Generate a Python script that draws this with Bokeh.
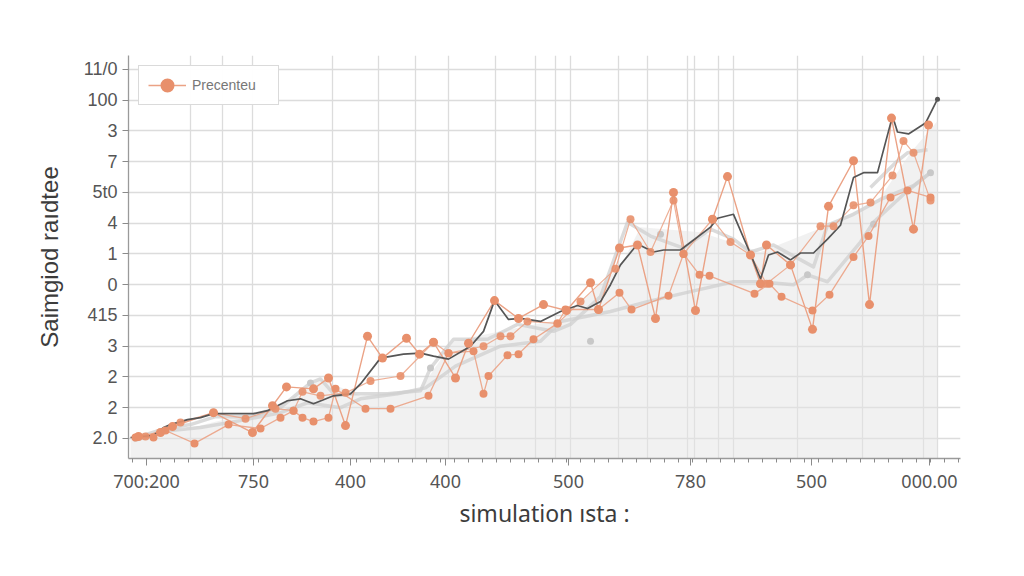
from bokeh.plotting import figure
from bokeh.models import FixedTicker, Legend, LegendItem
from bokeh.embed import file_html
from bokeh.resources import INLINE

# ---------------- data ----------------
x_tick_vals = [18, 125, 222, 317, 440, 562, 683, 801]
x_tick_labels = ["700:200", "750", "400", "400", "500", "780", "500", "000.00"]
y_tick_vals = [0, 31, 62, 93, 124, 155, 186, 217, 248, 279, 310, 341, 372]
y_tick_labels = ["2.0", "2", "2", "3", "415", "0", "1", "4", "5t0", "7", "3", "100", "11/0"]

dark_x = [2, 25, 35, 42, 59, 72, 85, 105, 125, 139, 159, 172, 185, 205, 222, 232, 252, 275, 292, 305,
          320, 342, 355, 366, 380, 392, 412, 432, 449, 459, 472, 482, 492, 509, 525, 535, 552, 582, 589,
          605, 622, 632, 640, 649, 662, 672, 685, 699, 712, 725, 735, 749, 764, 769, 780, 797, 809]
dark_y = [1, 3, 11, 14, 19, 21, 25, 25, 25, 28, 38, 40, 35, 43, 45, 55, 81, 85, 86, 83,
          80, 93, 108, 139, 120, 121, 118, 128, 134, 131, 138, 155, 175, 196, 188, 190, 190, 213, 222,
          226, 186, 161, 185, 188, 180, 187, 187, 201, 215, 263, 268, 268, 325, 309, 307, 318, 342]

orange_a_x = [10, 32, 44, 85, 124, 144, 158, 185, 200, 217, 239, 254, 278, 291, 305, 327, 340, 366, 390,
              415, 438, 462, 470, 491, 509, 527, 545, 567, 584, 599, 622, 632, 638, 662, 684, 700, 725,
              741, 763, 785, 800]
orange_a_y = [2, 6, 12, 26, 6, 33, 52, 50, 61, 13, 103, 81, 101, 85, 97, 61, 96, 139, 121,
              135, 129, 157, 130, 192, 195, 121, 248, 129, 221, 264, 185, 156, 195, 175, 110, 234, 280,
              135, 323, 211, 316]

orange_b_x = [7, 25, 37, 66, 100, 132, 152, 165, 174, 185, 200, 207, 237, 262, 300, 320, 345, 355, 360,
              379, 390, 405, 429, 437, 470, 491, 503, 540, 555, 571, 581, 626, 641, 653, 684, 701, 725,
              740, 762, 779, 802]
orange_b_y = [1, 1, 8, -5, 14, 10, 21, 28, 21, 17, 21, 50, 30, 30, 43, 86, 88, 45, 63,
              84, 85, 100, 116, 130, 130, 147, 130, 144, 186, 165, 164, 146, 156, 143, 129, 145, 183,
              204, 243, 250, 243]

orange_c_x = [17, 52, 85, 117, 147, 165, 174, 192, 217, 242, 272, 305, 320, 355, 372, 382, 399, 429,
              452, 487, 502, 522, 545, 555, 584, 602, 622, 638, 662, 692, 705, 725, 742, 764, 775, 785, 802]
orange_c_y = [2, 16, 26, 20, 30, 28, 47, 43, 46, 58, 63, 97, 86, 93, 103, 103, 118, 116,
              138, 171, 221, 188, 240, 186, 221, 198, 185, 156, 175, 214, 214, 235, 238, 265, 300, 288, 240]

gray_a_x = [5, 37, 62, 87, 122, 152, 182, 192, 207, 225, 259, 292, 302, 325, 359, 389, 425, 442, 472,
            499, 522, 555, 582, 605, 622, 645, 685, 699, 725, 752, 785, 802]
gray_a_y = [0, 10, 14, 22, 22, 31, 56, 60, 43, 45, 45, 48, 71, 100, 100, 115, 108, 115, 143,
            218, 204, 192, 211, 201, 188, 195, 173, 215, 226, 241, 255, 268]

gray_b_x = [5, 42, 72, 112, 152, 179, 212, 232, 269, 297, 327, 372, 412, 432, 482, 519, 562, 605, 632,
            665, 679, 699, 732, 745, 775, 802]
gray_b_y = [-2, 8, 11, 18, 26, 36, 31, 40, 45, 51, 73, 93, 98, 118, 128, 138, 148, 158, 158,
            155, 165, 158, 198, 218, 246, 268]

gray_c_x = [742, 767, 779, 799]
gray_c_y = [253, 278, 288, 291]

gray_dot_x = [182, 302, 462, 532, 679, 745, 802]
gray_dot_y = [56, 71, 98, 206, 165, 216, 268]

area_x = [2, 72, 152, 192, 232, 292, 325, 372, 432, 492, 512, 572, 632, 702, 752, 782, 809]
area_y = [0, 13, 33, 60, 43, 50, 98, 108, 120, 173, 213, 208, 188, 216, 243, 288, 320]

legend_label = "Precenteu"
x_title = "simulation \u0131sta :"
y_title = "Saimgiod ra\u0131dtee"

# ---------------- styles ----------------
ORANGE = "#E8906C"
ORANGE_LINE = "#EBA285"
DARK = "#555555"
GRAY = "#cfcfcf"

grid_x = [62, 94, 124, 204, 250, 287, 320, 367, 407, 427, 442, 490, 519, 559, 566, 590, 605,
          669, 734, 795, 809, 832]

p = figure(width=1010, height=566, output_backend="svg", toolbar_location=None,
           x_range=(0, 832), y_range=(-20.2, 386.1),
           min_border_left=128, min_border_right=50, min_border_top=55, min_border_bottom=108)
p.outline_line_color = None
p.background_fill_color = "white"
p.border_fill_color = "white"

# area
p.varea(x=area_x, y1=[-21] * len(area_x), y2=area_y, fill_color="#e4e4e4", fill_alpha=0.5)

# gray series
for gx, gy in [(gray_a_x, gray_a_y), (gray_b_x, gray_b_y), (gray_c_x, gray_c_y)]:
    p.line(gx, gy, line_color=GRAY, line_width=3.5, line_alpha=0.75, line_join="round")
p.scatter(gray_dot_x, gray_dot_y, size=7, fill_color="#c8c8c8", line_color=None)

# orange series lines
line_a = p.line(orange_a_x, orange_a_y, line_color=ORANGE_LINE, line_width=1.4)
p.line(orange_b_x, orange_b_y, line_color=ORANGE_LINE, line_width=1.3, line_alpha=0.9)
p.line(orange_c_x, orange_c_y, line_color=ORANGE_LINE, line_width=1.2, line_alpha=0.85)

# dark line
p.line(dark_x, dark_y, line_color=DARK, line_width=1.7, line_join="round")
p.scatter([dark_x[-1]], [dark_y[-1]], size=5, fill_color=DARK, line_color=None)

# orange markers
p.scatter(orange_a_x, orange_a_y, size=9, fill_color=ORANGE, line_color=None)
p.scatter(orange_b_x, orange_b_y, size=8, fill_color=ORANGE, line_color=None)
p.scatter(orange_c_x, orange_c_y, size=8, fill_color=ORANGE, line_color=None, fill_alpha=0.9)

# legend-only marker
legend_dot = p.scatter([float("nan")], [float("nan")], size=8, fill_color=ORANGE,
                       line_color=ORANGE, line_width=6)

legend = Legend(items=[LegendItem(label=legend_label, renderers=[line_a, legend_dot])],
                location="top_left", margin=10, padding=9, spacing=0,
                glyph_width=38, glyph_height=20, label_standoff=6, label_width=77, label_height=20,
                border_line_color="#b5b5b5", border_line_width=1.3,
                background_fill_color="white", background_fill_alpha=0.95,
                label_text_font="Liberation Sans", label_text_font_size="14px",
                label_text_color="#777777")
p.add_layout(legend)

# axes
xa = p.xaxis[0]
xa.ticker = FixedTicker(ticks=x_tick_vals, minor_ticks=list(range(4, 832, 14)))
xa.major_label_overrides = dict(zip(x_tick_vals, x_tick_labels))
xa.axis_label = x_title
ya = p.yaxis[0]
ya.ticker = FixedTicker(ticks=y_tick_vals, minor_ticks=[])
ya.major_label_overrides = dict(zip(y_tick_vals, y_tick_labels))
ya.axis_label = y_title

for ax in (xa, ya):
    ax.axis_line_color = "#9a9a9a"
    ax.axis_line_width = 1.3
    ax.major_tick_line_color = "#8a8a8a"
    ax.minor_tick_line_color = "#8a8a8a"
    ax.major_tick_in = 0
    ax.minor_tick_in = 0
    ax.major_label_text_color = "#555555"
    ax.axis_label_text_color = "#3c3c3c"
    ax.axis_label_text_font_style = "normal"

xa.major_tick_out = 7
xa.minor_tick_out = 4
xa.major_label_standoff = 3
xa.major_label_text_font = "Noto Sans"
xa.major_label_text_font_size = "18px"
xa.axis_label_text_font = "Noto Sans"
xa.axis_label_text_font_size = "23px"
xa.axis_label_standoff = 1

ya.major_tick_out = 6
ya.major_label_standoff = 5
ya.major_label_text_font = "Liberation Sans"
ya.major_label_text_font_size = "18px"
ya.axis_label_text_font = "Liberation Sans"
ya.axis_label_text_font_size = "24px"
ya.axis_label_standoff = 18

p.xgrid.ticker = FixedTicker(ticks=grid_x)
p.ygrid.ticker = FixedTicker(ticks=y_tick_vals)
for g in (p.xgrid[0], p.ygrid[0]):
    g.grid_line_color = "#dcdcdc"
    g.grid_line_width = 1.3

open("out.html", "w").write(file_html(p, INLINE))
